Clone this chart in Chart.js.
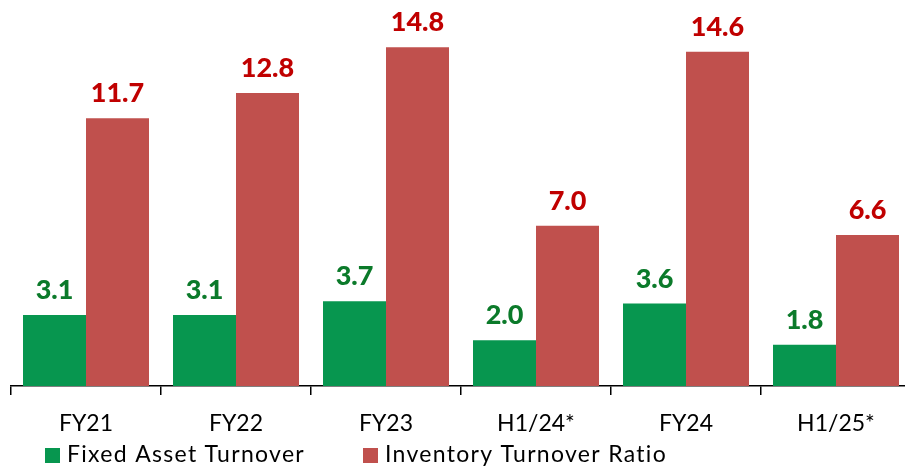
<!DOCTYPE html>
<html>
<head>
<meta charset="utf-8">
<script src="https://cdn.jsdelivr.net/npm/chart.js@4/dist/chart.umd.min.js"></script>
<style>
  html, body { margin: 0; padding: 0; background: #fff; overflow: hidden; }
  #wrap { width: 920px; height: 467px; }
</style>
</head>
<body>
<div id="wrap"><canvas id="chart"></canvas></div>
<script>
const categories = ['FY21', 'FY22', 'FY23', 'H1/24*', 'FY24', 'H1/25*']
const fixedAssetTurnover = [3.1, 3.1, 3.7, 2.0, 3.6, 1.8]
const inventoryTurnover = [11.7, 12.8, 14.8, 7.0, 14.6, 6.6]
const seriesNames = ['Fixed Asset Turnover', 'Inventory Turnover Ratio']

const GREEN = '#07964f'
const RED = '#c0504d'
const GREEN_TEXT = '#0b7a2a'
const RED_TEXT = '#c00000'
const FONT = 'Lato, "Open Sans", sans-serif'

// value labels above each bar
const valueLabels = {
    id: 'valueLabels',
    afterDatasetsDraw(chart) {
        const ctx = chart.ctx
        ctx.save()
        ctx.font = '900 27px ' + FONT
        ctx.textAlign = 'center'
        ctx.textBaseline = 'alphabetic'
        chart.data.datasets.forEach((ds, i) => {
            ctx.fillStyle = i === 0 ? GREEN_TEXT : RED_TEXT
            chart.getDatasetMeta(i).data.forEach((bar, j) => {
                ctx.fillText(ds.data[j].toFixed(1), bar.x, bar.y - 16)
            })
        })
        ctx.restore()
    }
}

// legend drawn by hand so it sits where the original does
const customLegend = {
    id: 'customLegend',
    afterDraw(chart) {
        const ctx = chart.ctx
        ctx.save()
        ctx.font = '23px ' + FONT
        ctx.letterSpacing = '1.3px'
        ctx.textBaseline = 'middle'
        const items = [
            {x: 45, color: GREEN, text: seriesNames[0]},
            {x: 363, color: RED, text: seriesNames[1]},
        ]
        items.forEach(it => {
            ctx.fillStyle = it.color
            ctx.fillRect(it.x, 448, 15, 15)
            ctx.fillStyle = '#000'
            ctx.fillText(it.text, it.x + 22, 455)
        })
        ctx.restore()
    }
}

new Chart(document.getElementById('chart').getContext('2d'), {
    type: 'bar',
    data: {
        labels: categories,
        datasets: [
            {label: seriesNames[0], data: fixedAssetTurnover, backgroundColor: GREEN},
            {label: seriesNames[1], data: inventoryTurnover, backgroundColor: RED},
        ],
    },
    options: {
        responsive: true,
        maintainAspectRatio: false,
        animation: false,
        categoryPercentage: 0.84,
        barPercentage: 1,
        layout: {padding: {left: 11, right: 9, top: 0, bottom: 21}},
        plugins: {
            legend: {display: false},
            tooltip: {enabled: false},
        },
        scales: {
            x: {
                afterFit(scale) { scale.height = 60 },
                border: {display: true, color: '#000', width: 1.5},
                grid: {
                    offset: true,
                    drawOnChartArea: false,
                    drawTicks: true,
                    tickLength: 9,
                    color: '#000',
                    lineWidth: 1.5,
                },
                ticks: {
                    color: '#000',
                    font: {family: FONT, size: 23},
                    padding: 15,
                },
            },
            y: {
                display: false,
                min: 0,
                max: 16.86,
            },
        },
    },
    plugins: [valueLabels, customLegend],
})
</script>
</body>
</html>
